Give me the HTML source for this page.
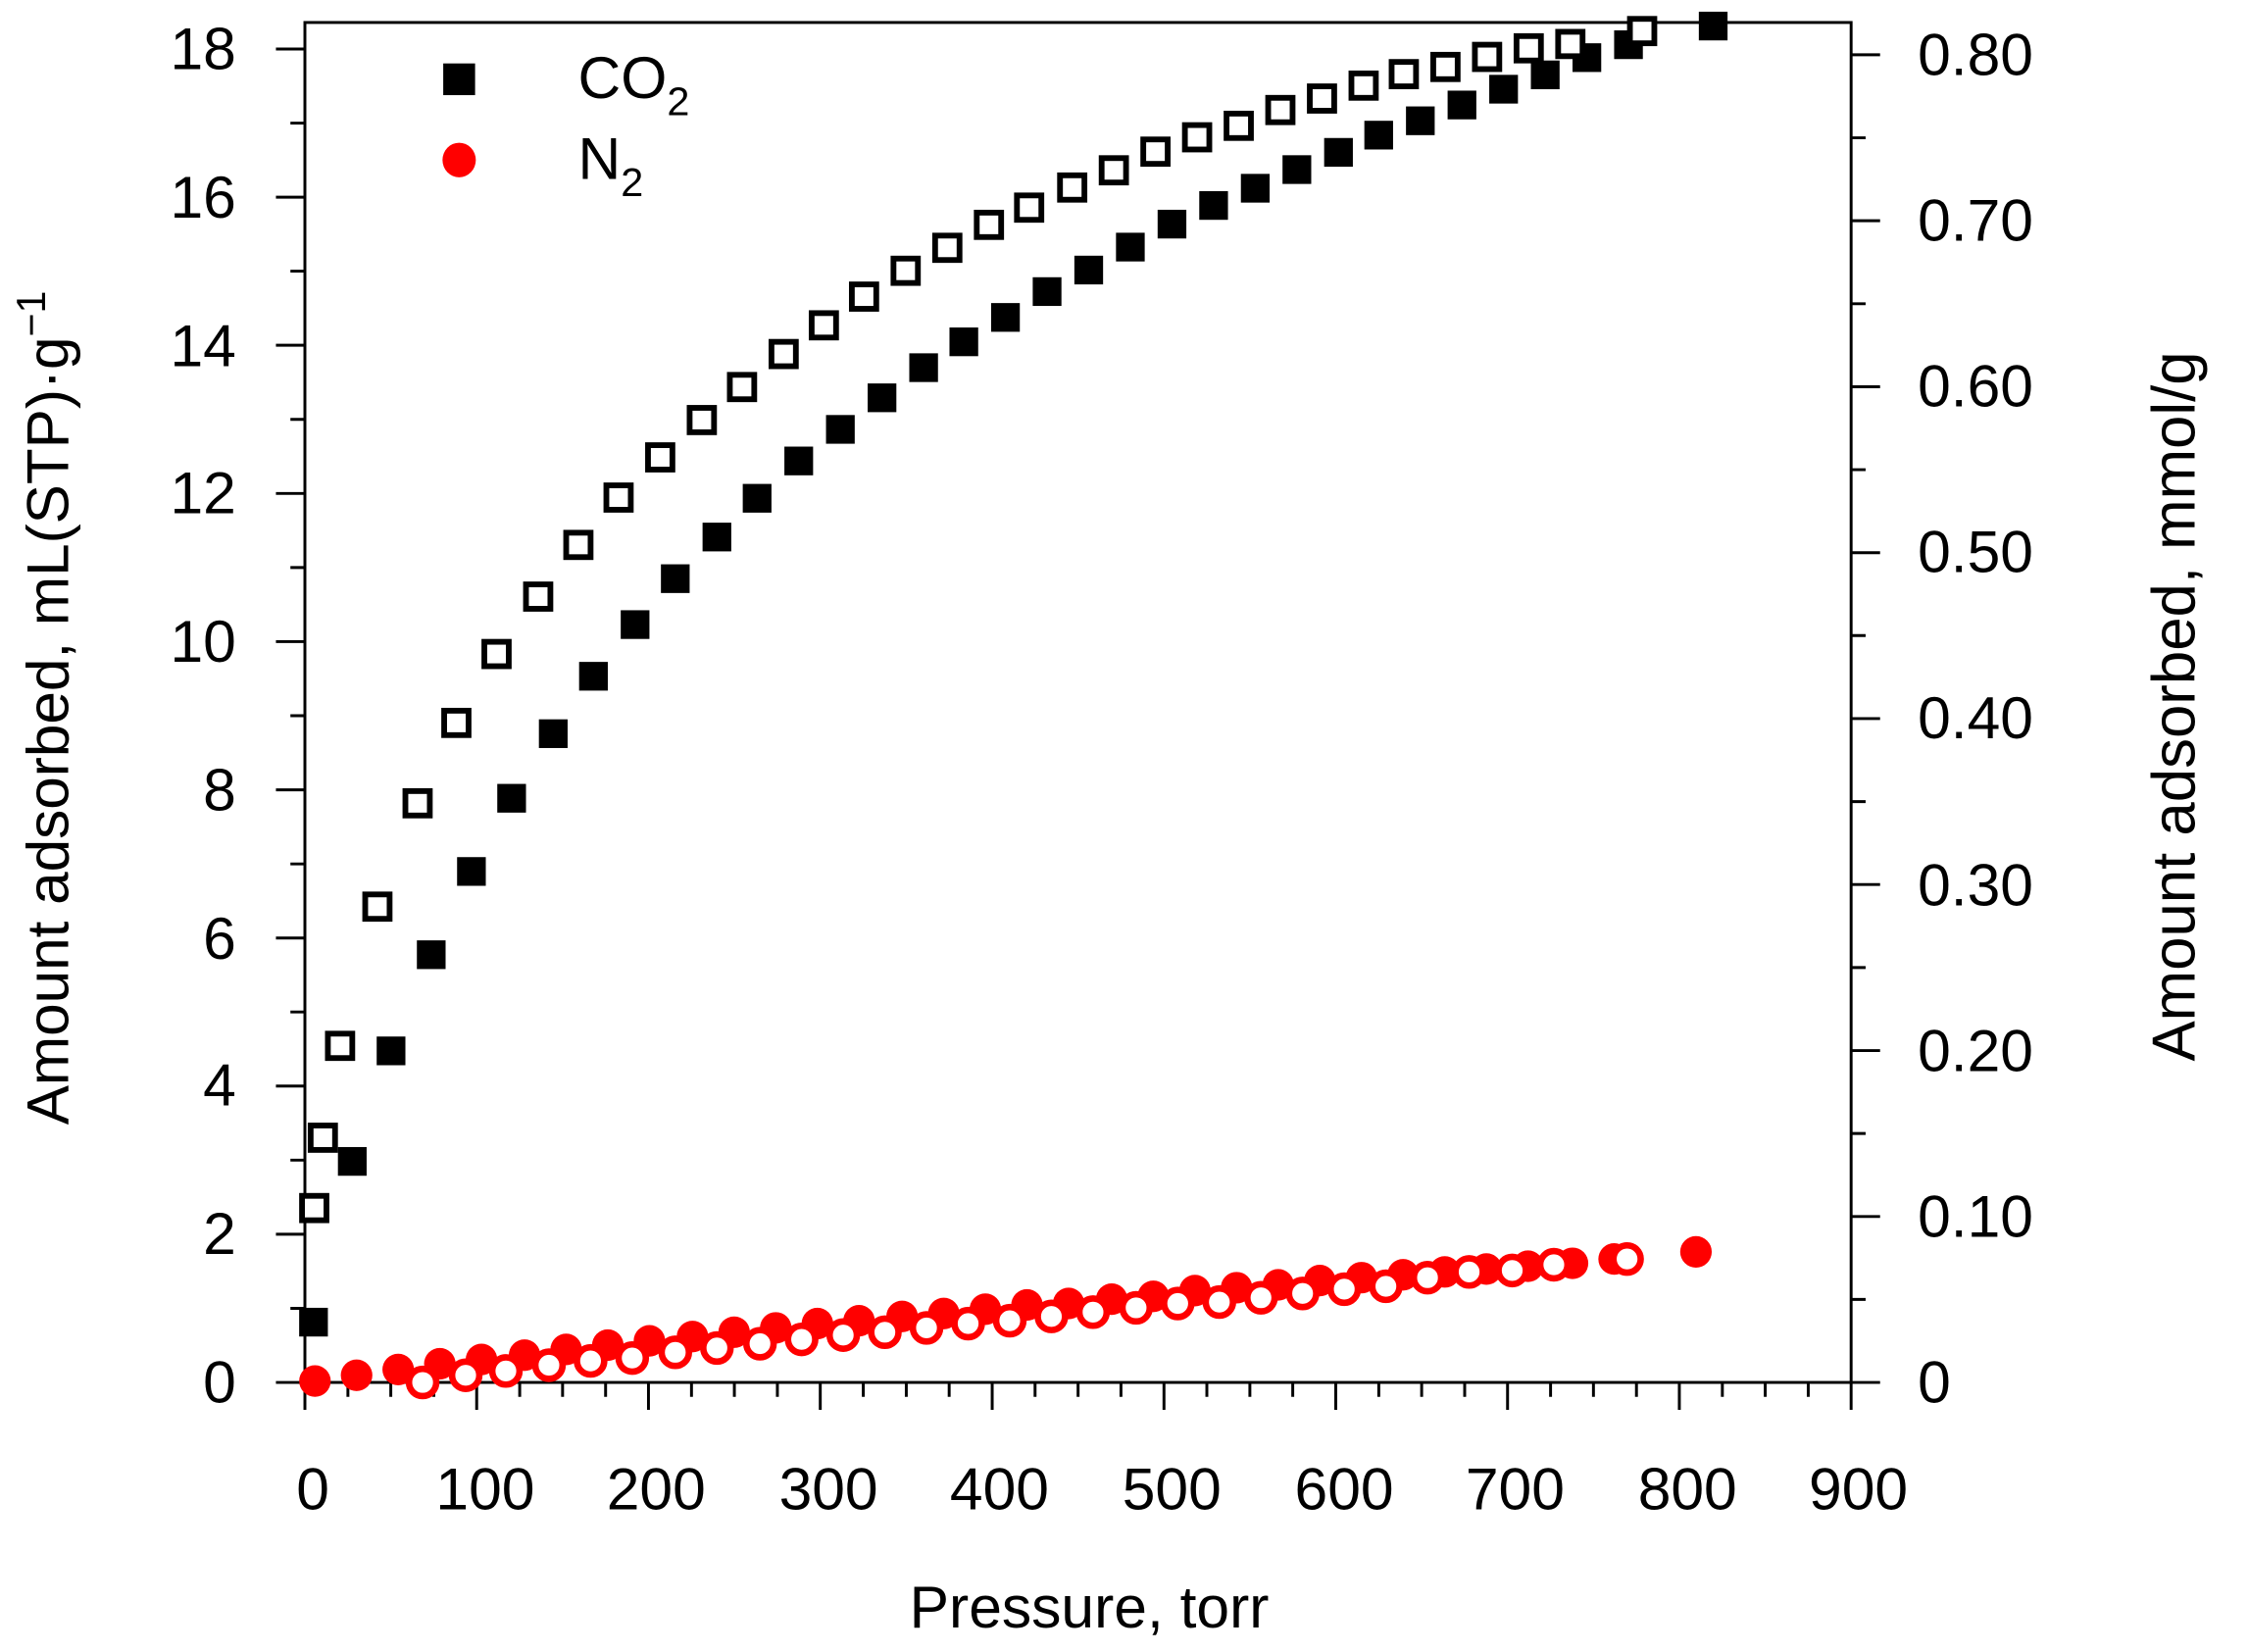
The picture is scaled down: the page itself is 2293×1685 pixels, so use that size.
<!DOCTYPE html>
<html><head><meta charset="utf-8"><style>html,body{margin:0;padding:0;background:#fff;}svg{display:block;}</style></head>
<body>
<svg width="2293" height="1685" viewBox="0 0 1552 1146" preserveAspectRatio="none" xmlns="http://www.w3.org/2000/svg" font-family="Liberation Sans, Arial, sans-serif">
<rect width="1552" height="1146" fill="#fff"/>
<g stroke="#000" stroke-width="2" fill="none">
<rect x="210.5" y="15.6" width="1067.5" height="943.4"/>
<path d="M190.5 959H210.5M200.5 907.6H210.5M190.5 856.2H210.5M200.5 804.8H210.5M190.5 753.4H210.5M200.5 702H210.5M190.5 650.7H210.5M200.5 599.3H210.5M190.5 547.9H210.5M200.5 496.5H210.5M190.5 445.1H210.5M200.5 393.7H210.5M190.5 342.3H210.5M200.5 290.9H210.5M190.5 239.5H210.5M200.5 188.1H210.5M190.5 136.8H210.5M200.5 85.4H210.5M190.5 34H210.5"/>
<path d="M1278 959H1298M1278 901.4H1288M1278 843.9H1298M1278 786.3H1288M1278 728.8H1298M1278 671.2H1288M1278 613.6H1298M1278 556.1H1288M1278 498.5H1298M1278 440.9H1288M1278 383.4H1298M1278 325.8H1288M1278 268.3H1298M1278 210.7H1288M1278 153.1H1298M1278 95.6H1288M1278 38H1298"/>
<path d="M210.5 959V978M240.2 959V969M269.8 959V969M299.5 959V969M329.1 959V978M358.8 959V969M388.4 959V969M418.1 959V969M447.7 959V978M477.4 959V969M507 959V969M536.7 959V969M566.3 959V978M596 959V969M625.7 959V969M655.3 959V969M685 959V978M714.6 959V969M744.3 959V969M773.9 959V969M803.6 959V978M833.2 959V969M862.9 959V969M892.5 959V969M922.2 959V978M951.9 959V969M981.5 959V969M1011.2 959V969M1040.8 959V978M1070.5 959V969M1100.1 959V969M1129.8 959V969M1159.4 959V978M1189.1 959V969M1218.7 959V969M1248.4 959V969M1278 959V978"/>
</g>
<g font-size="41" fill="#000">
<g text-anchor="end">
<text x="163" y="973">0</text><text x="163" y="870">2</text><text x="163" y="767">4</text><text x="163" y="665">6</text><text x="163" y="562">8</text><text x="163" y="459">10</text><text x="163" y="356">12</text><text x="163" y="254">14</text><text x="163" y="151">16</text><text x="163" y="48">18</text>
</g>
<g text-anchor="start">
<text x="1324" y="973">0</text><text x="1324" y="858">0.10</text><text x="1324" y="743">0.20</text><text x="1324" y="628">0.30</text><text x="1324" y="512">0.40</text><text x="1324" y="397">0.50</text><text x="1324" y="282">0.60</text><text x="1324" y="167">0.70</text><text x="1324" y="52">0.80</text>
</g>
<g text-anchor="middle">
<text x="216" y="1047">0</text><text x="335" y="1047">100</text><text x="453" y="1047">200</text><text x="572" y="1047">300</text><text x="690" y="1047">400</text><text x="809" y="1047">500</text><text x="928" y="1047">600</text><text x="1046" y="1047">700</text><text x="1165" y="1047">800</text><text x="1283" y="1047">900</text>
<text x="752" y="1129">Pressure, torr</text>
</g>
<text transform="translate(47,491) rotate(-90)" text-anchor="middle" font-size="41">Amount adsorbed, mL(STP)·g<tspan dy="-16" font-size="28">−1</tspan></text>
<text transform="translate(1515,490) rotate(-90)" text-anchor="middle" font-size="42">Amount adsorbed, mmol/g</text>
<text x="399" y="68">CO<tspan dy="12" font-size="28">2</tspan></text>
<text x="399" y="124">N<tspan dy="12" font-size="28">2</tspan></text>
</g>
<rect x="306" y="44" width="22" height="22" fill="#000"/>
<ellipse cx="317" cy="111" rx="11.5" ry="12" fill="#f00"/>
<g transform="matrix(0.9911 0 0 0.9957 -0.6 0.15)">
<g fill="#f00">
<circle cx="220" cy="962" r="11"/><circle cx="249" cy="958" r="11"/><circle cx="278" cy="954" r="11"/><circle cx="307" cy="950" r="11"/><circle cx="336" cy="947" r="11"/><circle cx="366" cy="944" r="11"/><circle cx="395" cy="940" r="11"/><circle cx="424" cy="937" r="11"/><circle cx="453" cy="934" r="11"/><circle cx="483" cy="931" r="11"/><circle cx="512" cy="928" r="11"/><circle cx="541" cy="925" r="11"/><circle cx="570" cy="922" r="11"/><circle cx="599" cy="920" r="11"/><circle cx="629" cy="917" r="11"/><circle cx="658" cy="915" r="11"/><circle cx="687" cy="912" r="11"/><circle cx="716" cy="909" r="11"/><circle cx="745" cy="908" r="11"/><circle cx="775" cy="905" r="11"/><circle cx="804" cy="903" r="11"/><circle cx="833" cy="899" r="11"/><circle cx="862" cy="897" r="11"/><circle cx="891" cy="895" r="11"/><circle cx="920" cy="892" r="11"/><circle cx="949" cy="890" r="11"/><circle cx="978" cy="888" r="11"/><circle cx="1007" cy="886" r="11"/><circle cx="1036" cy="884" r="11"/><circle cx="1065" cy="882" r="11"/><circle cx="1096" cy="880" r="11"/><circle cx="1125" cy="877" r="11"/><circle cx="1182" cy="872" r="11"/>
</g>
<g fill="#fff" stroke="#f00" stroke-width="4.5">
<circle cx="295" cy="963" r="9.5"/><circle cx="325" cy="958" r="9.5"/><circle cx="353" cy="955" r="9.5"/><circle cx="383" cy="951" r="9.5"/><circle cx="412" cy="948" r="9.5"/><circle cx="441" cy="946" r="9.5"/><circle cx="471" cy="942" r="9.5"/><circle cx="500" cy="939" r="9.5"/><circle cx="530" cy="936" r="9.5"/><circle cx="559" cy="933" r="9.5"/><circle cx="588" cy="930" r="9.5"/><circle cx="617" cy="928" r="9.5"/><circle cx="646" cy="925" r="9.5"/><circle cx="675" cy="922" r="9.5"/><circle cx="704" cy="920" r="9.5"/><circle cx="733" cy="917" r="9.5"/><circle cx="762" cy="914" r="9.5"/><circle cx="792" cy="911" r="9.5"/><circle cx="821" cy="908" r="9.5"/><circle cx="850" cy="907" r="9.5"/><circle cx="879" cy="904" r="9.5"/><circle cx="908" cy="901" r="9.5"/><circle cx="937" cy="898" r="9.5"/><circle cx="966" cy="896" r="9.5"/><circle cx="995" cy="890" r="9.5"/><circle cx="1024" cy="886" r="9.5"/><circle cx="1054" cy="885" r="9.5"/><circle cx="1083" cy="881" r="9.5"/><circle cx="1134" cy="877" r="9.5"/>
</g>
<g fill="#000">
<rect x="209" y="911" width="20" height="20"/><rect x="236" y="799" width="20" height="20"/><rect x="263" y="722" width="20" height="20"/><rect x="291" y="655" width="20" height="20"/><rect x="319" y="597" width="20" height="20"/><rect x="347" y="546" width="20" height="20"/><rect x="376" y="501" width="20" height="20"/><rect x="404" y="461" width="20" height="20"/><rect x="433" y="425" width="20" height="20"/><rect x="461" y="393" width="20" height="20"/><rect x="490" y="364" width="20" height="20"/><rect x="518" y="337" width="20" height="20"/><rect x="547" y="311" width="20" height="20"/><rect x="576" y="289" width="20" height="20"/><rect x="605" y="267" width="20" height="20"/><rect x="634" y="246" width="20" height="20"/><rect x="662" y="228" width="20" height="20"/><rect x="691" y="211" width="20" height="20"/><rect x="720" y="193" width="20" height="20"/><rect x="749" y="178" width="20" height="20"/><rect x="778" y="162" width="20" height="20"/><rect x="807" y="146" width="20" height="20"/><rect x="836" y="133" width="20" height="20"/><rect x="865" y="121" width="20" height="20"/><rect x="894" y="108" width="20" height="20"/><rect x="923" y="96" width="20" height="20"/><rect x="951" y="84" width="20" height="20"/><rect x="980" y="74" width="20" height="20"/><rect x="1009" y="63" width="20" height="20"/><rect x="1038" y="52" width="20" height="20"/><rect x="1067" y="42" width="20" height="20"/><rect x="1096" y="30" width="20" height="20"/><rect x="1125" y="21" width="20" height="20"/><rect x="1184" y="8" width="20" height="20"/>
</g>
<g fill="#fff" stroke="#000" stroke-width="4">
<rect x="211" y="833" width="17" height="17"/><rect x="217" y="784" width="17" height="17"/><rect x="229" y="720" width="17" height="17"/><rect x="255" y="623" width="17" height="17"/><rect x="283" y="551" width="17" height="17"/><rect x="310" y="495" width="17" height="17"/><rect x="338" y="447" width="17" height="17"/><rect x="367" y="407" width="17" height="17"/><rect x="395" y="371" width="17" height="17"/><rect x="423" y="338" width="17" height="17"/><rect x="452" y="310" width="17" height="17"/><rect x="481" y="284" width="17" height="17"/><rect x="509" y="261" width="17" height="17"/><rect x="538" y="238" width="17" height="17"/><rect x="566" y="218" width="17" height="17"/><rect x="594" y="198" width="17" height="17"/><rect x="623" y="180" width="17" height="17"/><rect x="652" y="164" width="17" height="17"/><rect x="681" y="148" width="17" height="17"/><rect x="709" y="136" width="17" height="17"/><rect x="739" y="122" width="17" height="17"/><rect x="768" y="110" width="17" height="17"/><rect x="797" y="97" width="17" height="17"/><rect x="826" y="87" width="17" height="17"/><rect x="855" y="79" width="17" height="17"/><rect x="884" y="68" width="17" height="17"/><rect x="913" y="60" width="17" height="17"/><rect x="942" y="51" width="17" height="17"/><rect x="970" y="43" width="17" height="17"/><rect x="999" y="38" width="17" height="17"/><rect x="1028" y="31" width="17" height="17"/><rect x="1057" y="25" width="17" height="17"/><rect x="1086" y="22" width="17" height="17"/><rect x="1136" y="13" width="17" height="17"/>
</g>
</g>
</svg>
</body></html>
